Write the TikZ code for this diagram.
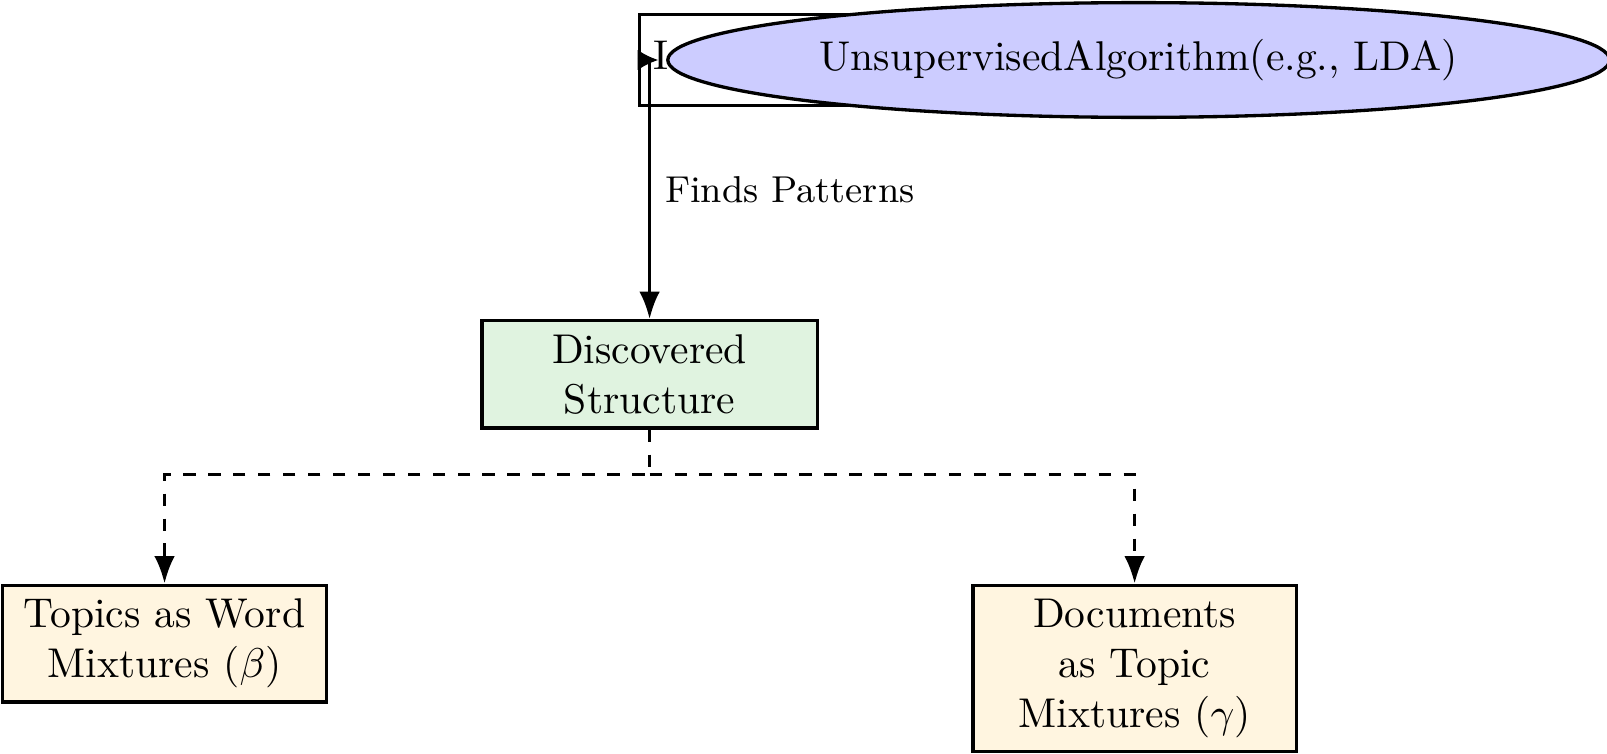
\documentclass[tikz,border=0pt]{standalone}
\usetikzlibrary{positioning,shapes.geometric,arrows.meta}
\definecolor{structgreen}{RGB}{224,243,224}
\definecolor{leafcream}{RGB}{255,245,224}
\definecolor{algoblue}{RGB}{204,204,255}

\begin{document}
\begin{tikzpicture}[
    inbox/.style={draw, thick, rectangle, anchor=west, minimum height=0.77cm,
      text width=2.7cm, text depth=.5ex, align=left},
    algo/.style={draw, thick, ellipse, fill=algoblue, minimum height=0.97cm},
    mainbox/.style={draw, thick, rectangle, fill=structgreen, text width=2.6cm, align=center},
    leaf/.style={draw, thick, rectangle, fill=leafcream, text width=2.5cm, align=center},
    link/.style={-{Latex}, thick},
    dashlink/.style={-{Latex}, thick, dashed}
  ]
  \useasboundingbox (-5.391,0.507) rectangle (8.193,-5.858);
  \node[inbox] (input) at (0,0) {I};
  \node[algo, right=2.4mm of input.west] (algo) {UnsupervisedAlgorithm(e.g., LDA)};
  \node[mainbox, below=2.19cm of input.west, xshift=1mm] (structure) {Discovered\\Structure};
  \node[leaf, below left=1.3cm and 4.1cm of structure.south, anchor=north] (topics)
    {Topics as Word\\Mixtures ($\beta$)};
  \node[leaf, below right=1.3cm and 4.1cm of structure.south, anchor=north] (docs)
    {Documents\\as Topic\\Mixtures ($\gamma$)};
  \coordinate[right=1.75mm of input.west] (intip);
  \coordinate[below=0.38cm of structure.south] (split);

  \draw[-{Latex[length=5pt,width=5pt]}, thick] (input.west) -- (intip);
  \draw[link] (structure |- input) -- node[right, font=\small] {Finds Patterns} (structure);
  \draw[dashlink] (structure.south) -- (split) -| (topics.north);
  \draw[dashlink] (split) -| (docs.north);
\end{tikzpicture}
\end{document}
